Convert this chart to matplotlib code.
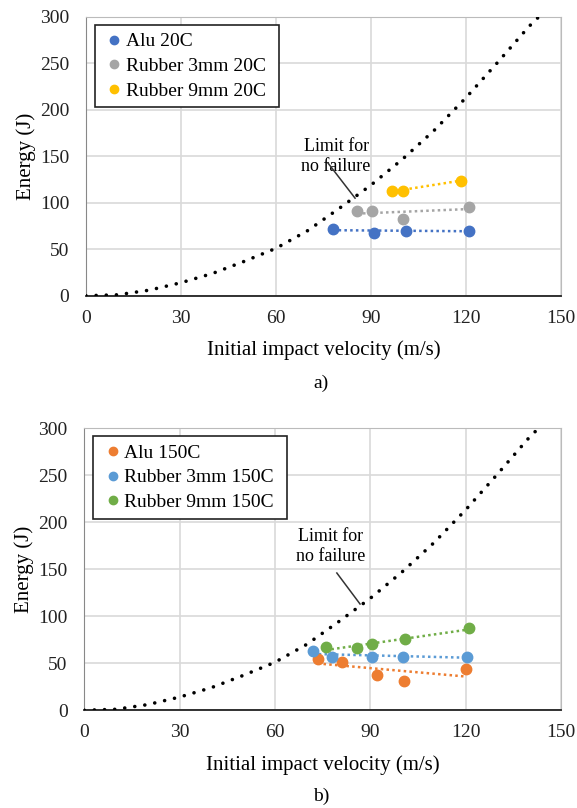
import numpy as np
import matplotlib
matplotlib.use("Agg")
import matplotlib.pyplot as plt
from matplotlib.lines import Line2D

plt.rcParams['font.family'] = ['Liberation Serif', 'DejaVu Serif']

# limit curve
lim_v = [0, 10, 20, 30, 40, 50, 60, 70, 80, 90, 100, 110, 120, 130, 140, 143]
lim_e = [0, 1, 6, 14, 24, 37, 51, 70, 94, 119, 147, 178, 213, 251, 290, 300]

# a) 20C
alu20_v = [78, 91, 101, 121]
alu20_e = [72, 68, 70, 70]
r3_20_v = [85.7, 90.5, 100, 121]
r3_20_e = [91, 91, 83, 96]
r9_20_v = [96.8, 100, 118.4]
r9_20_e = [113, 113, 124]

# b) 150C
alu150_v = [73.5, 81, 92, 100.6, 120]
alu150_e = [55, 51, 38, 31, 44]
r3_150_v = [72, 78, 90.5, 100.3, 120.5]
r3_150_e = [63, 57, 57, 57, 57]
r9_150_v = [76, 86, 90.5, 101, 121]
r9_150_e = [67, 66, 70, 76, 87]

xticks = [0, 30, 60, 90, 120, 150]
yticks = [0, 50, 100, 150, 200, 250, 300]


def draw_panel(ax, series, txt_xy, arrow_from, arrow_to):
    ax.plot(lim_v, lim_e, color='black', lw=2.6, linestyle=(0, (0.01, 2.8)),
            dash_capstyle='round', zorder=3)
    handles = []
    for v, e, col, lab in series:
        v = np.array(v); e = np.array(e)
        k, b = np.polyfit(v, e, 1)
        xs = np.array([v.min(), v.max()])
        ax.plot(xs, k * xs + b, color=col, lw=1.8, linestyle=(0, (1, 1.3)), zorder=2)
        ax.plot(v, e, 'o', color=col, ms=7.5, zorder=4)
        handles.append(Line2D([], [], marker='o', color=col, ls='none', ms=6, label=lab + ' '))
    ax.set_xlim(0, 150)
    ax.set_ylim(0, 300)
    ax.set_xticks(xticks)
    ax.set_yticks(yticks)
    ax.grid(True, color='#d9d9d9', lw=1.2)
    ax.set_axisbelow(True)
    ax.tick_params(axis='x', length=0, labelsize=14, pad=10, colors='#222222')
    ax.tick_params(axis='y', length=0, labelsize=14, pad=12, colors='#222222')
    ax.spines['left'].set_color('#888888')
    ax.spines['bottom'].set_color('#222222')
    ax.spines['bottom'].set_linewidth(1.3)
    ax.spines['top'].set_color('#bbbbbb')
    ax.spines['right'].set_color('#bbbbbb')
    ax.set_xlabel('Initial impact velocity (m/s)', fontsize=15, labelpad=10)
    ax.set_ylabel('Energy (J)', fontsize=15, labelpad=3)
    ax.text(txt_xy[0], txt_xy[1], 'Limit for\nno failure', ha='center', va='center',
            fontsize=13, linespacing=1.25)
    ax.plot([arrow_from[0], arrow_to[0]], [arrow_from[1], arrow_to[1]],
            color='#333333', lw=1.1, zorder=3)
    leg = ax.legend(handles=handles, loc='upper left', bbox_to_anchor=(0.019, 0.971),
                    fontsize=14, frameon=True, fancybox=False, handletextpad=0.0,
                    handlelength=1.2, borderpad=0.4, labelspacing=0.36,
                    borderaxespad=0, edgecolor='#222222', framealpha=1)
    leg.get_frame().set_linewidth(1.2)


fig = plt.figure(figsize=(5.77, 8.08), dpi=100)
ax1 = fig.add_axes([0.149, 0.634, 0.823, 0.345])
ax2 = fig.add_axes([0.146, 0.121, 0.826, 0.349])

draw_panel(ax1, [(alu20_v, alu20_e, '#4472C4', 'Alu 20C'),
                 (r3_20_v, r3_20_e, '#A5A5A5', 'Rubber 3mm 20C'),
                 (r9_20_v, r9_20_e, '#FFC000', 'Rubber 9mm 20C')],
           (79, 150), (76.4, 143), (85, 105))
draw_panel(ax2, [(alu150_v, alu150_e, '#ED7D31', 'Alu 150C'),
                 (r3_150_v, r3_150_e, '#5B9BD5', 'Rubber 3mm 150C'),
                 (r9_150_v, r9_150_e, '#70AD47', 'Rubber 9mm 150C')],
           (77.6, 174), (79.5, 146), (86.8, 113))

fig.text(0.556, 0.526, 'a)', ha='center', va='center', fontsize=14)
fig.text(0.556, 0.015, 'b)', ha='center', va='center', fontsize=14)

fig.savefig('out.png', dpi=100)
